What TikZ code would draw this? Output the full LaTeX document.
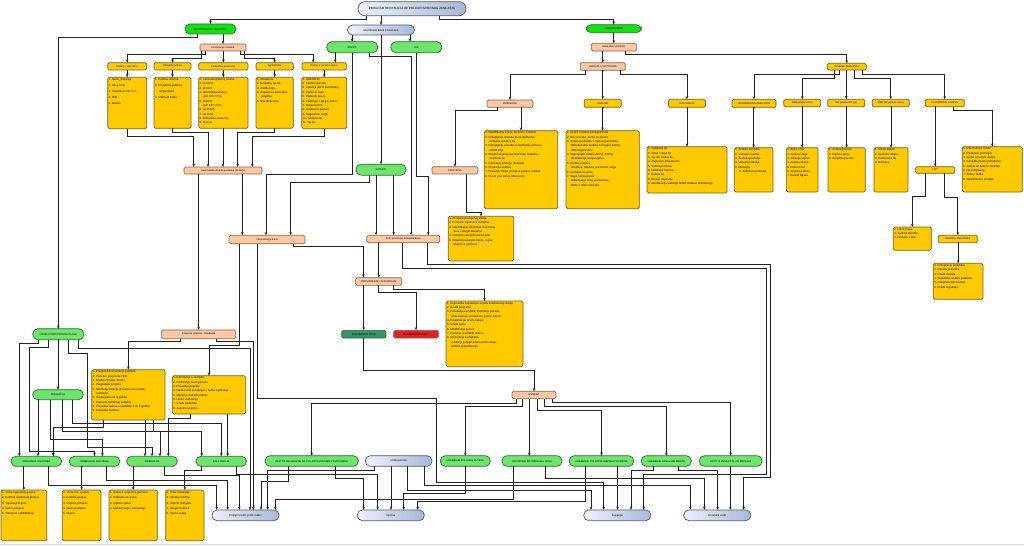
\documentclass[tikz,border=0pt]{standalone}
\usepackage{fontspec}
\setmainfont{Liberation Sans}
\usepackage{tikz}
\usetikzlibrary{arrows,arrows.meta,calc}

\newdimen\pxu
\pxu=0.025cm
\newcommand{\natpis}{\fontsize{1.8}{2.2}\selectfont}
\newcommand{\sitno}{\fontsize{2}{3.1}\selectfont}
\newcommand{\uvuci}{\hspace*{4\pxu}}
% kutija s popisom: ime, x, y (gornji lijevi kut), sirina, visina, tekst
\newcommand{\kutija}[6]{%
  \node[popis] (#1) at (#2,#3) {\parbox[c][\dimexpr#5\pxu-2\pxu\relax][t]{\dimexpr#4\pxu-2\pxu\relax}{\raggedright #6}};}

\definecolor{zelenajar}{RGB}{20,225,20}
\definecolor{zelenasv}{RGB}{110,230,110}
\definecolor{zelenarub}{RGB}{40,110,40}
\definecolor{narfill}{RGB}{250,200,165}
\definecolor{narrub}{RGB}{140,100,70}
\definecolor{zutfill}{RGB}{255,202,0}
\definecolor{zutrub}{RGB}{120,95,30}
\definecolor{plavasv}{RGB}{238,242,250}
\definecolor{plavatm}{RGB}{168,184,214}
\definecolor{plavarub}{RGB}{80,90,115}
\definecolor{tamnozel}{RGB}{50,150,105}
\definecolor{crvena}{RGB}{235,30,30}
\definecolor{crta}{RGB}{35,35,35}

\begin{document}
\begin{tikzpicture}[x=\pxu, y=-\pxu,
  strel/.style={->,>={Stealth[length=2.3pt,width=1.8pt]},draw=crta,line width=0.55pt},
  cvor/.style={draw,line width=0.5pt,inner sep=0pt,outer sep=0pt,align=center,font=\natpis},
  velicina/.style 2 args={minimum width=#1\pxu,minimum height=#2\pxu},
  glava/.style={cvor,draw=plavarub,left color=plavasv,right color=plavatm,rounded corners=5\pxu},
  zeleni/.style={cvor,draw=zelenarub,fill=zelenasv,rounded corners=5\pxu},
  jarki/.style={zeleni,fill=zelenajar},
  narancasti/.style={cvor,draw=narrub,fill=narfill,rounded corners=1.5\pxu},
  zuti/.style={cvor,draw=zutrub,fill=zutfill,rounded corners=1.5\pxu},
  popis/.style={draw=zutrub,fill=zutfill,line width=0.5pt,rounded corners=1.5\pxu,inner sep=1\pxu,outer sep=0pt,anchor=north west,font=\sitno}]
\useasboundingbox (0,0) rectangle (1024,545);
%
% Naslov i glavne grane
\node[glava,velicina={108}{14},rounded corners=7\pxu,font=\fontsize{2.1}{2.5}\selectfont] (naslov) at (412,8.7) {PROGRAM REVITALIZACIJE POLJOPRIVREDNOG ZEMLJIŠTA};
\node[jarki,velicina={51}{10}] (kart) at (210.5,29) {IDENTIFIKACIJA ZEMLJIŠTA};
\node[glava,velicina={67}{10}] (unos) at (381,30) {UNOŠENJE BAZE PODATAKA};
\node[zeleni,velicina={51}{11}] (arkod) at (352.2,47.2) {ARKOD};
\node[zeleni,velicina={51}{11}] (gis) at (416.3,47.2) {GIS};
\node[jarki,velicina={55}{8}] (vred) at (613.7,28.7) {VREDNOVANJE};
%
% Lijevi blok: istrazivanje
\node[narancasti,velicina={46}{7}] (istr) at (223,47.5) {Istraživanje i analiza};
\node[zuti,velicina={39}{7.3}] (h1) at (127.2,66.3) {Podaci o vlasništvu};
\node[zuti,velicina={37}{7.3}] (h2) at (172.5,66.3) {Klimatski podaci};
\node[zuti,velicina={49.3}{7.3}] (h3) at (223.35,66.3) {Pedološka analiza tla};
\node[zuti,velicina={37.3}{7.3}] (h4) at (274.65,66.3) {Agrotehnika};
\node[zuti,velicina={44.3}{7.3}] (h5) at (324.2,66.3) {Podaci o parceli i usjevu};
\kutija{b1}{107.7}{77.3}{39}{51.4}{1. Naziv\_Županije\\[1.2pt]2. Ulica i broj\\[1.2pt]3. Posjedovni list / k.č.\\[1.2pt]4. OIB\\[1.2pt]5. telefon}
\kutija{b2}{154}{77.3}{37}{51}{1. Količina oborina\\[1.2pt]2. Prosječna godišnja\\[1.2pt]\uvuci temperatura\\[1.2pt]3. Vlažnost zraka}
\kutija{b3}{198.7}{77.3}{49.3}{51}{1. Laboratorijski broj uzorka\\2. pH H2O\\3. pH KCl\\4. Hidrolitička kiselost\\\uvuci (pH KCl < 5,5)\\5. CaCO3\\\uvuci (pH KCl > 6,5)\\6. AL-P2O5\\7. AL-K2O\\8. Mehanički sastav tla\\9. Humus}
\kutija{b4}{256}{77.3}{37.3}{51}{1. Obrada tla\\2. Gnojidba, sjetva\\3. Zaštita bilja\\4. Organska i mineralna\\\uvuci gnojidba\\5. Navodnjavanje}
\kutija{b5}{301.7}{77.3}{45}{51.4}{1. ARKOD ID\\2. Veličina parcele\\3. Lokacija (GPS koordinate)\\4. Planirani usjev\\5. Planirani prinos\\6. Predusjev i njegov prinos\\7. Biogenost tla\\8. Uređenost parcele\\9. Nagnutost i nagib\\10. Tekstura tla\\11. Tip tla}
\node[narancasti,velicina={78}{7}] (automat) at (223,170.5) {Automatska obrada podataka (ArcGIS)};
%
% Srednji blok
\node[zeleni,velicina={50}{11}] (satelit) at (381,169.7) {SATELITI};
\node[narancasti,velicina={46}{7.3}] (procjena) at (455,170.3) {PROCJENA};
\node[narancasti,velicina={76}{8.5}] (interp) at (267,239.5) {Interpretacija baza};
\node[narancasti,velicina={73}{7.5}] (gisbaza) at (403.3,239) {GIS, prostorna, tematska baza};
\kutija{procbox}{448.3}{216.3}{65.4}{44.7}{1. Procjena postojećeg stanja\\2. Procjena vrijednosti zemljišta\\3. Identifikacija vlasništva i korisnika,\\\uvuci veza s drugim bazama\\4. Procjena razvojnih potencijala\\5. Prijedlog razvojnih mjera, uvjeta,\\\uvuci smjernica i planova}
\node[narancasti,velicina={46}{7.7}] (provod) at (378.8,281.5) {PROVOĐENJE I PLANIRANJE};
\kutija{provbox}{446}{301}{77}{65.7}{1. Usporedba zapažanja i ocjena kvalitativnog stanja\\2. Izrada programa\\3. Privođenje zemljišta, formiranje parcela,\\\uvuci infrastruktura, prometnice, putovi, kanali\\4. Projektiranje mreže kanala\\5. Izrada cesta\\6. Modifikacija putova\\7. Praćenje izvedenih radova\\8. Upravljanje zemljištem\\\uvuci uvođenje poljoprivredne proizvodnje,\\\uvuci održivo gospodarenje}
\node[cvor,draw=zelenarub,fill=tamnozel,rounded corners=1.5\pxu,velicina={44.3}{7.7}] (proved) at (363.8,334.2) {PROVEDBENI PLAN};
\node[cvor,draw=black!60,fill=crvena,rounded corners=1.5\pxu,velicina={44.7}{7.7}] (izved) at (416,334.2) {IZVEDBENI PROJEKT};
\node[narancasti,velicina={44}{7.4}] (izvedba) at (534,395) {IZVEDBA};
%
% Desni blok: vrednovanje
\node[narancasti,velicina={45}{7.7}] (uzorci) at (613.8,47.2) {ANALIZA (UZORCI)};
\node[narancasti,velicina={45}{7.7}] (anisp) at (602.8,66.5) {ANALIZA I ISPITIVANJA};
\node[narancasti,velicina={46}{7.3}] (primj) at (510,103.7) {PRIMJERAK};
\node[zuti,velicina={37}{8}] (analize) at (602.7,103.3) {ANALIZE};
\node[zuti,velicina={37}{8}] (ispit) at (687,103.3) {ISPITIVANJA};
\node[zuti,velicina={44}{8}] (nepolj) at (754,103.3) {NEOBRAĐENO ZEMLJIŠTE};
\node[zuti,velicina={39}{6.7}] (ocjena) at (846.8,66.7) {OCJENA ZEMLJIŠTA};
\node[zuti,velicina={37}{7.4}] (mbr1) at (802.2,103) {MBR (Biljne vrste)};
\node[zuti,velicina={37}{7.4}] (mb2) at (846.3,103) {MB (proizvodni\_tip)};
\node[zuti,velicina={37}{7.4}] (mbr3) at (890.8,103) {MBR (Drvenaste vrste)};
\node[zuti,velicina={39}{7.4}] (planir) at (944.7,103) {PLANIRANJE USJEVA};
\node[zuti,velicina={39}{6.7}] (listn) at (935.2,170) {LIST};
\node[zuti,velicina={39}{7.4}] (obrada) at (957.8,239) {OBRADA PODATAKA};
\kutija{primbox}{484.3}{130.7}{73.4}{78}{1. Identifikacija stanja, točnosti i kvalitete\\2. Prikupljanje uzoraka tla za ispitivanje\\\uvuci zemljišta i analizu tla\\3. Prikupljanje uzoraka za ispitivanje prinosa i\\\uvuci zaštite bilja\\4. Ekspertna procjena stručnosti, kvalitete,\\\uvuci svojstava tla\\5. Ispitivanje podloge i kvalitete\\6. Prostorna analiza\\7. Praćenje stanja, primjena gnojiva i zaštite\\8. Dva ili više izvora informacija}
\kutija{analbox}{566}{130.7}{73.3}{78}{1. Uzorci i analiza postojećih tala\\2. Broj uzoraka i točke na parceli\\3. Analiza podataka o mikroorganizmima\\\uvuci Mikrobiološka analiza, biologija i kemija\\\uvuci mikroorganizama\\4. Vegetacijski indeksi (NDVI, CWSI)\\\uvuci Identifikacija stanja usjeva\\5. Fizička svojstva\\\uvuci Struktura, tekstura, poroznost, vlaga\\6. Kemijska svojstva\\7. Mapa homogenosti\\\uvuci Određivanje zona uzorkovanja\\\uvuci Makro i mikro elementi}
\kutija{ispbox}{647}{146.7}{80}{46.3}{1. Vodljivost tla\\2. Sklop i vlaga tla\\3. Tip tla i sastav tla\\4. Zbijenost i struktura tla\\5. Sadržaj humusa\\6. Mobilnost hraniva\\7. Dubina tla\\8. Erozija i ispiranje\\9. Identifikacija sadržaja teških metala i onečišćenja}
\kutija{nepbox}{734.3}{147.7}{38.7}{44.3}{1. Analiza zemljišta\\2. Vodotoci i kanali\\3. Šumska područja\\4. Urbana područja\\5. Ekologija\\\uvuci 6. Zaštićena područja}
\kutija{mbr1box}{786.3}{147.7}{31.7}{44.3}{1. Biljne vrste\\2. Analiza vlage\\3. Zdravlje usjeva\\4. Analiza stresa\\5. Pokrovnost\\6. Analiza prinosa\\7. Bolesti biljaka}
\kutija{mb2box}{828}{147.7}{37.3}{44.3}{1. Analiza prinosa\\2. Vrijeme sjetve\\3. Gnojidba parcele}
\kutija{mbr3box}{874}{147.7}{34}{44.3}{1. Visina biljaka\\2. Gustoća sklopa\\3. Pokrovnost tla\\4. Biomasa}
\kutija{planbox}{962.3}{146.7}{60}{45.3}{1. Izbor kulture i sorte\\2. Plodored i predusjev\\3. Sjetva i gustoća sklopa\\4. Gnojidba prema potrebama\\5. Zaštita od bolesti i štetnika\\6. Navodnjavanje\\7. Žetva i berba\\8. Skladištenje i prodaja}
\kutija{listbox}{893.3}{227}{38}{23.3}{1. Lisna masa\\2. Sadržaj klorofila\\3. Hranjiva u listu}
\kutija{obrbox}{933.3}{263.3}{49.7}{36}{1. Prikupljanje podataka\\2. Obrada podataka\\3. Izrada modela\\4. Statistička analiza podataka\\5. Interpretacija rezultata\\6. Izrada izvještaja}
%
% Lijevi donji blok
\node[zeleni,velicina={51}{11}] (izrada) at (58.3,334.2) {IZRADA PROSTORNOG PLANA};
\node[narancasti,velicina={74}{8.7}] (prip) at (198.7,334.3) {Priprema projekta i standarda};
\kutija{ppbox}{91.7}{369.7}{73.3}{50.3}{1. Pregled dokumentacije projekta\\2. Potrebe i preporuke NPR\\3. Izrada snimaka i tlocrta\\4. Raspodjela projekta\\5. Iskolčenje lokacije (Prostorni Geo Data)\\\uvuci kartiranje\\6. Izrada plana na 5 godina\\7. Priprema tehničkog projekta\\8. Provedba radova u razdoblju 3 do 5 godina\\9. Provedba nadzora}
\kutija{pp2box}{172.3}{375.7}{73.4}{38.3}{1. Informacije o zemljištu\\2. Formiranje novih parcela\\3. Provedba projekta\\4. Nadzor nad izvođenjem, tlačna ispitivanja\\5. Mjerenje kvalitete radova\\6. Upisi i evidencija\\7. Izrada elaborata\\8. Završno izvješće}
\node[zeleni,velicina={50.7}{10}] (podr) at (58,394.7) {PODRUČJA};
\node[zeleni,velicina={50.7}{10}] (org) at (36.3,461.3) {ORGANSKA GNOJIDBA};
\node[zeleni,velicina={50.7}{10}] (mineral) at (94.5,461.3) {MINERALNA GNOJIDBA};
\node[zeleni,velicina={50.7}{10}] (sid) at (152,461.3) {SIDERACIJA};
\node[zeleni,velicina={50.7}{10}] (kal) at (221.2,461.3) {KALCIZACIJA};
\kutija{obox}{1}{490}{45.7}{50.7}{1. Vrsta organskog gnojiva\\[0.8pt]2. Količina organskog gnojiva\\[0.8pt]3. Vrijeme primjene\\[0.8pt]4. Način primjene\\[0.8pt]5. Transport i skladištenje}
\kutija{mbox}{62.3}{490}{38.7}{50.7}{1. Vrsta min. gnojiva\\[0.8pt]2. Količina gnojiva\\[0.8pt]3. Vrijeme primjene\\[0.8pt]4. Način primjene\\[0.8pt]5. Cijena}
\kutija{sbox}{109}{490}{48.3}{50.7}{1. Nabava i priprema sjemena\\[0.8pt]2. Priprema za sjetvu\\[0.8pt]3. Vrijeme sjetve\\[0.8pt]4. Mehanizacija i zaoravanje}
\kutija{kbox}{165.7}{490}{38.3}{50.7}{1. Vrsta materijala\\[0.8pt]2. Ukupne količine\\[0.8pt]3. Vrijeme primjene\\[0.8pt]4. Ukupni troškovi\\[0.8pt]5. Cijena vapna}
%
% Donji red: zahvati i korisnici
\node[zeleni,velicina={93.3}{10.6}] (erozija) at (311.7,461) {ZAŠTITA OD EROZIJE NA POLJOPRIVREDNIM POVRŠINAMA};
\node[glava,velicina={66.7}{10.6}] (komas) at (398.7,461) {KOMASACIJA};
\node[zeleni,velicina={50}{10.6}] (putevi) at (465.3,461) {UREĐENJE POLJSKIH PUTEVA};
\node[zeleni,velicina={60}{10.6}] (odvod) at (532,461) {ODVODNJA POVRŠINSKIH VODA};
\node[zeleni,velicina={64.4}{10.6}] (povrs) at (601.5,461) {UREĐENJE POLJOPRIVREDNIH POVRŠINA};
\node[zeleni,velicina={50}{10.6}] (kanal) at (666.3,461) {UREĐENJE KANALSKE MREŽE};
\node[zeleni,velicina={62.7}{10.6}] (poplav) at (730.7,461) {ZAŠTITA ZEMLJIŠTA OD POPLAVA};
\node[glava,velicina={67}{10.7},font=\sitno] (poljo) at (245.5,515.3) {Poljoprivredni proizvođači};
\node[glava,velicina={67}{10.7},font=\sitno] (opcina) at (390.8,515.3) {Općina};
\node[glava,velicina={67}{10.7},font=\sitno] (zup) at (617.3,515.3) {Županija};
\node[glava,velicina={67}{10.7},font=\sitno] (hv) at (717.3,515.3) {Hrvatske vode};
%
%Veze gore
\draw[strel] ($(naslov.south)+(-46,0)$) -- ++(0,3.3) -| (kart.north);
\draw[strel] ($(naslov.south)+(27,0)$) -- ++(0,3.3) -| (vred.north);
\draw[strel] ($(naslov.south)+(-31,0)$) -| (unos.north);
\draw[strel] ($(unos.south)+(-29,0)$) -| (arkod.north);
\draw[strel] ($(unos.south)+(29,0)$) -| ($(gis.north)+(-6.3,0)$);
\draw[strel] (unos.south) -| (satelit.north);
\draw[strel] ($(kart.south)+(12.5,0)$) -| (istr.north);
\draw[strel] ($(kart.south)+(-13.5,0)$) -- ++(0,3.7) -| (izrada.north);
\draw[strel] ($(istr.south)+(-18,0)$) -- ++(0,3.3) -| (h1.north);
\draw[strel] ($(istr.south)+(-22,0)$) -- ++(0,7.3) -| (h2.north);
\draw[strel] (istr.south) -| (h3.north);
\draw[strel] ($(istr.south)+(21,0)$) -- ++(0,7.3) -| (h4.north);
\draw[strel] ($(istr.south)+(17.7,0)$) -- ++(0,3.3) -| ($(h5.north)+(-11,0)$);
\draw[strel] ($(arkod.south)+(-17.2,0)$) -| ($(h5.north)+(11,0)$);
\foreach \i in {1,...,5}
  \draw[strel] (h\i.south) -| (b\i.north);
\draw[strel] (b1.south) -- ++(0,7.3) -| ($(automat.north)+(-29.3,0)$);
\draw[strel] (b2.south) -- ++(0,4) -| ($(automat.north)+(-15,0)$);
\draw[strel] (b3.south) -| (automat.north);
\draw[strel] (b4.south) -- ++(0,3.7) -| ($(automat.north)+(14.7,0)$);
\draw[strel] (b5.south) -- ++(0,7.3) -| ($(automat.north)+(29.3,0)$);
\draw[strel] ($(automat.south)+(-24.3,0)$) -| (prip.north);
\draw[strel] ($(automat.south)+(19.3,0)$) -| ($(interp.north)+(-24.7,0)$);
%Veze sredina
\draw[strel] (arkod.south) -- ++(0,121.3) -| ($(interp.north)+(-1,0)$);
\draw[strel] ($(arkod.south)+(17,0)$) -- ++(0,4) -| ($(gisbaza.north)+(7.7,0)$);
\draw[strel] ($(gis.south)+(-0.3,0)$) -- ++(0,124) -| ($(gisbaza.north)+(25,0)$);
\draw[strel] ($(satelit.south)+(-11.7,0)$) -- ++(0,7.5) -| ($(interp.north)+(23.7,0)$);
\draw[strel] ($(satelit.south)+(-5,0)$) -| ($(gisbaza.north)+(-27.3,0)$);
\draw[strel] ($(satelit.south)+(12.7,0)$) -| ($(gisbaza.north)+(-9.6,0)$);
\draw[strel] ($(procjena.south)+(11,0)$) -- ++(0,38) -| (procbox.north);
\draw[strel] ($(gisbaza.south)+(-24.6,0)$) -| (provod.north);
\draw[strel] ($(interp.south)+(26.7,0)$) -- ++(0,2.5) -| ($(provod.north)+(-15.5,0)$);
\draw[strel] ($(provod.south)+(-15.5,0)$) -| (proved.north);
\draw[strel] (provod.south) -- ++(0,6.7) -| (izved.north);
\draw[strel] ($(provod.south)+(14.5,0)$) -- ++(0,4) -| (provbox.north);
\draw[strel] (proved.south) -- ++(0,32.6) -| (izvedba.north);
%Veze desno
\draw[strel] (vred.south) -| (uzorci.north);
\draw[strel] ($(uzorci.south)+(-11.8,0)$) -| (anisp.north);
\draw[strel] ($(uzorci.south)+(11.5,0)$) -- ++(0,3.3) -| (ocjena.north);
\draw[strel] ($(anisp.south)+(-17.8,0)$) -- ++(0,3.7) -| (primj.north);
\draw[strel] (anisp.south) -| (analize.north);
\draw[strel] ($(anisp.south)+(17.2,0)$) -- ++(0,3.7) -| (ispit.north);
\draw[strel] ($(ocjena.south)+(-7.1,0)$) -- ++(0,4) -| (nepolj.north);
\draw[strel] ($(ocjena.south)+(-12.1,0)$) -- ++(0,8.3) -| (mbr1.north);
\draw[strel] (ocjena.south) -| (mb2.north);
\draw[strel] ($(ocjena.south)+(7.2,0)$) -- ++(0,8.3) -| (mbr3.north);
\draw[strel] ($(ocjena.south)+(15.5,0)$) -- ++(0,4) -| (planir.north);
\draw[strel] ($(primj.south)+(11.3,0)$) -| (primbox.north);
\draw[strel] ($(primj.south)+(-13,0)$) -- ++(0,2.7) -| (procjena.north);
\draw[strel] (analize.south) -| (analbox.north);
\draw[strel] (ispit.south) -| (ispbox.north);
\draw[strel] (nepolj.south) -| (nepbox.north);
\draw[strel] (mbr1.south) -| (mbr1box.north);
\draw[strel] (mb2.south) -| (mb2box.north);
\draw[strel] (mbr3.south) -| (mbr3box.north);
\draw[strel] ($(planir.south)+(-10,0)$) -| (listn.north);
\draw[strel] ($(planir.south)+(9,0)$) -- ++(0,4) -| (planbox.north);
\draw[strel] ($(listn.south)+(-9.9,0)$) -- ++(0,22.7) -| (listbox.north);
\draw[strel] ($(listn.south)+(9.5,0)$) -- ++(0,23.7) -| (obrada.north);
\draw[strel] (obrada.south) -| (obrbox.north);
%Veze izvedba
\draw[strel] ($(izvedba.south)+(-18,0)$) -- ++(0,4.3) -| (erozija.north);
\draw[strel] ($(izvedba.south)+(-12,0)$) -- ++(0,8) -| (putevi.north);
\draw[strel] ($(izvedba.south)+(-4.7,0)$) -| ($(odvod.north)+(-2.7,0)$);
\draw[strel] ($(izvedba.south)+(3,0)$) -- ++(0,12) -| (povrs.north);
\draw[strel] ($(izvedba.south)+(10.3,0)$) -- ++(0,7.6) -| (kanal.north);
\draw[strel] ($(izvedba.south)+(18,0)$) -- ++(0,3.6) -| (poplav.north);
%Veze prema korisnicima
\draw[strel] ($(interp.south)+(-27.7,0)$) -- ++(0,101.6) -| (pp2box.north);
\draw[strel] ($(interp.south)+(-9.3,0)$) -- ++(0,155) -- ++(178.3,0) -- ++(0,83.6) -| ($(zup.north)+(-13.6,0)$);
\draw[strel] ($(gisbaza.south)+(24.4,0)$) -- ++(0,22) -- ++(343,0) -- ++(0,212.6) -| ($(hv.north)+(26.4,0)$);
\draw[strel] ($(gisbaza.south)+(-0.6,0)$) -- ++(0,26) -- ++(363.3,0) -- ++(0,205.3) -| ($(zup.north)+(26.4,0)$);
\draw[strel] ($(erozija.south)+(-23,0)$) -- ++(0,15) -| ($(poljo.north)+(15.5,0)$);
\draw[strel] ($(erozija.south)+(23.3,0)$) -- ++(0,11.7) -| ($(opcina.north)+(-27.1,0)$);
\draw[strel] ($(komas.south)+(-24.4,0)$) -- ++(0,4.4) -| ($(poljo.north)+(22.2,0)$);
\draw[strel] ($(komas.south)+(-7.7,0)$) -| ($(opcina.north)+(0.2,0)$);
\draw[strel] ($(komas.south)+(9,0)$) -- ++(0,23.7) -| ($(zup.north)+(-26.3,0)$);
\draw[strel] ($(komas.south)+(25.6,0)$) -- ++(0,19.4) -| ($(hv.north)+(-27,0)$);
\draw[strel] (putevi.south) -- ++(0,27) -| ($(opcina.north)+(12.9,0)$);
\draw[strel] ($(odvod.south)+(-18.3,0)$) -- ++(0,32.7) -| ($(poljo.north)+(29.8,0)$);
\draw[strel] ($(odvod.south)+(13.3,0)$) -- ++(0,11.7) -| ($(hv.north)+(-13,0)$);
\draw[strel] ($(povrs.south)+(-16.2,0)$) -- ++(0,35.4) -| ($(opcina.north)+(26.9,0)$);
\draw[strel] ($(povrs.south)+(16.2,0)$) -| ($(zup.north)+(0.4,0)$);
\draw[strel] ($(kanal.south)+(-12.6,0)$) -- ++(0,4.4) -| ($(zup.north)+(13.7,0)$);
\draw[strel] ($(kanal.south)+(12.4,0)$) -- ++(0,4.4) -| ($(hv.north)+(0.4,0)$);
\draw[strel] (poplav.south) -| ($(hv.north)+(13,0)$);
%Veze lijevo dolje
\draw[strel] (izrada.south) -| (podr.north);
\draw[strel] ($(izrada.south)+(-20,0)$) -- ++(0,4) -| ($(org.north)+(-17,0)$);
\draw[strel] ($(izrada.south)+(-10,0)$) -- ++(0,8) -| ++(-19,103.6) -| (mineral.north);
\draw[strel] ($(izrada.south)+(10,0)$) -- ++(0,14) -| ++(19.4,93.6) -| (sid.north);
\draw[strel] ($(izrada.south)+(20,0)$) -- ++(0,9) -| ($(poljo.north)+(4.5,0)$);
\draw[strel] ($(prip.south)+(-18.7,0)$) -- ++(0,2.3) -| (ppbox.north);
\draw[strel] ($(prip.south)+(18,0)$) -- ++(0,2.3) -| ($(poljo.north)+(7.8,0)$);
\draw[strel] ($(podr.south)+(-20,0)$) -| ($(org.north)+(1.7,0)$);
\draw[strel] ($(podr.south)+(-8,0)$) -- ++(0,40) -| ($(mineral.north)+(8,0)$);
\draw[strel] ($(podr.south)+(4,0)$) -- ++(0,32) -| ($(sid.north)+(8,0)$);
\draw[strel] ($(podr.south)+(14,0)$) -- ++(0,24) -| (kal.north);
\draw[strel] ($(ppbox.south)+(-25,0)$) -- ++(0,7) -| ($(org.north)+(17,0)$);
\draw[strel] ($(ppbox.south)+(16.6,0)$) -| ($(sid.north)+(-7,0)$);
\draw[strel] ($(ppbox.south)+(25,0)$) -- ++(0,11) -| ($(kal.north)+(-19.5,0)$);
\draw[strel] ($(pp2box.south)+(-19,0)$) -- ++(0,4) -| ($(sid.north)+(16.3,0)$);
\draw[strel] ($(pp2box.south)+(18.7,0)$) -| ($(kal.north)+(6.5,0)$);
\draw[strel] ($(org.south)+(-13,0)$) -| (obox.north);
\draw[strel] ($(mineral.south)+(-12.8,0)$) -| (mbox.north);
\draw[strel] ($(sid.south)+(-18.7,0)$) -| (sbox.north);
\draw[strel] ($(kal.south)+(-20,0)$) -- ++(0,4) -| (kbox.north);
\draw[strel] ($(org.south)+(12,0)$) -- ++(0,19.4) -| ($(poljo.north)+(-28.8,0)$);
\draw[strel] ($(mineral.south)+(12.2,0)$) -- ++(0,14.4) -| ($(poljo.north)+(-17.8,0)$);
\draw[strel] ($(sid.south)+(12.3,0)$) -- ++(0,9.4) -| ($(poljo.north)+(-6.2,0)$);
\draw[strel] ($(kal.south)+(15,0)$) -- ++(0,7.7) -| ($(opcina.north)+(-13.1,0)$);
% rub stranice
\draw[black!15,line width=0.6pt] (0,544.3) -- (1024,544.3);
\end{tikzpicture}
\end{document}
